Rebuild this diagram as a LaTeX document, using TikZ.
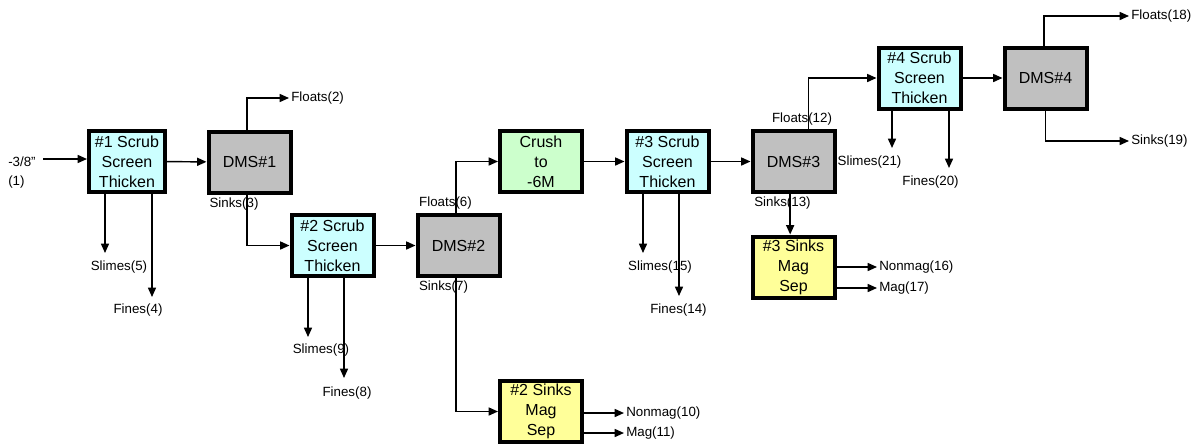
\documentclass[tikz,border=0pt]{standalone}
\usepackage{fontspec}
\setmainfont{Liberation Sans}
\usetikzlibrary{arrows.meta}
\usetikzlibrary{positioning}

\definecolor{scrubfill}{HTML}{CCFFFF}
\definecolor{dmsfill}{HTML}{C0C0C0}
\definecolor{crushfill}{HTML}{CCFFCC}
\definecolor{sepfill}{HTML}{FFFF99}

\begin{document}
\begin{tikzpicture}[x=0.75pt, y=-0.75pt]
\tikzstyle{unit} = [rectangle, minimum width=61.5pt, minimum height=45.75pt, inner sep=0pt, align=center, text centered, draw=black, line width=3pt, font=\fontsize{12}{15}\selectfont]
\tikzstyle{scrub} = [unit, fill=scrubfill]
\tikzstyle{dms} = [unit, fill=dmsfill]
\tikzstyle{crush} = [unit, fill=crushfill]
\tikzstyle{magsep} = [unit, fill=sepfill]
\tikzstyle{stream} = [inner sep=1.5pt, font=\fontsize{10}{12}\selectfont]
\tikzstyle{flow} = [line width=1.1pt, -{Triangle[length=7pt, width=6pt]}]

\useasboundingbox (0,0) rectangle (1199,444);

% Units
\node (scrubA) [scrub, minimum width=57pt] at (127,161.5) {\#1 Scrub\\Screen\\Thicken};
\node (dmsA) [dms] at (249.5,162) {DMS\#1};
\node (scrubB) [scrub] at (332.5,245.5) {\#2 Scrub\\Screen\\Thicken};
\node (dmsB) [dms] at (458.5,245.5) {DMS\#2};
\node (crushA) [crush] at (541,161.5) {Crush\\to\\-6M};
\node (sepB) [magsep] at (541,411.5) {\#2 Sinks\\Mag\\Sep};
\node (scrubC) [scrub] at (667.5,161.5) {\#3 Scrub\\Screen\\Thicken};
\node (dmsC) [dms] at (793.5,161.5) {DMS\#3};
\node (sepC) [magsep] at (793.5,267) {\#3 Sinks\\Mag\\Sep};
\node (scrubD) [scrub] at (919.5,78) {\#4 Scrub\\Screen\\Thicken};
\node (dmsD) [dms] at (1045.5,78) {DMS\#4};

% Streams
\coordinate (feed) at (43,159);
\node (feedA) [stream, anchor=west] at (6,162) {-3/8"};
\node (feedB) [stream, anchor=west] at (6,182) {(1)};
\node (floatsA) [stream, anchor=west] at (289,98) {Floats(2)};
\node (sinksA) [stream] at (234,204) {Sinks(3)};
\coordinate (slimesAend) at (105,253);
\node (slimesA) [stream] at (119,267) {Slimes(5)};
\coordinate (finesAend) at (152,297);
\node (finesA) [stream] at (138,310) {Fines(4)};

\coordinate (slimesBend) at (308,337);
\node (slimesB) [stream] at (321,350) {Slimes(9)};
\coordinate (finesBend) at (344,378);
\node (finesB) [stream] at (347,393) {Fines(8)};
\node (floatsB) [stream] at (445.5,203) {Floats(6)};
\node (sinksB) [stream] at (443.5,287) {Sinks(7)};
\node (nonmagB) [stream, anchor=west] at (624,413) {Nonmag(10)};
\node (magB) [stream, anchor=west] at (624,433) {Mag(11)};

\coordinate (slimesCend) at (643,253);
\node (slimesC) [stream] at (660,267) {Slimes(15)};
\coordinate (finesCend) at (679,296);
\node (finesC) [stream] at (678.5,310) {Fines(14)};
\node (floatsC) [stream] at (802,119) {Floats(12)};
\node (sinksC) [stream] at (782.5,203) {Sinks(13)};
\node (nonmagC) [stream, anchor=west] at (877,267) {Nonmag(16)};
\node (magC) [stream, anchor=west] at (877,288) {Mag(17)};

\coordinate (slimesDend) at (892,148);
\node (slimesD) [stream] at (869.5,162) {Slimes(21)};
\coordinate (finesDend) at (949,168);
\node (finesD) [stream] at (930.5,182) {Fines(20)};
\node (floatsD) [stream, anchor=west] at (1129,16) {Floats(18)};
\node (sinksD) [stream, anchor=west] at (1129,141) {Sinks(19)};

% Draws
\draw[flow] (feed) -- (feed -| scrubA.west);
\draw[flow] (scrubA) -- (dmsA);
\draw[flow] ([xshift=-2pt]dmsA.north) |- (floatsA.west);
\draw[flow] ([xshift=-2pt]dmsA.south) |- (scrubB.west);
\draw[flow] (scrubA.south -| slimesAend) -- (slimesAend);
\draw[flow] (scrubA.south -| finesAend) -- (finesAend);

\draw[flow] (scrubB) -- (dmsB);
\draw[flow] (scrubB.south -| slimesBend) -- (slimesBend);
\draw[flow] (scrubB.south -| finesBend) -- (finesBend);
\draw[flow] ([xshift=-2pt]dmsB.north) |- (crushA.west);
\draw[flow] ([xshift=-2pt]dmsB.south) |- (sepB.west);
\draw[flow] (sepB.east |- nonmagB.west) -- (nonmagB.west);
\draw[flow] (sepB.east |- magB.west) -- (magB.west);

\draw[flow] (crushA) -- (scrubC);
\draw[flow] (scrubC) -- (dmsC);
\draw[flow] (scrubC.south -| slimesCend) -- (slimesCend);
\draw[flow] (scrubC.south -| finesCend) -- (finesCend);
\draw[flow] ([xshift=11.25pt]dmsC.north) |- (scrubD.west);
\draw[flow] ([xshift=-2.5pt]dmsC.south) -- ([xshift=-2.5pt]sepC.north);
\draw[flow] (sepC.east |- nonmagC.west) -- (nonmagC.west);
\draw[flow] (sepC.east |- magC.west) -- (magC.west);

\draw[flow] (scrubD) -- (dmsD);
\draw[flow] (scrubD.south -| slimesDend) -- (slimesDend);
\draw[flow] (scrubD.south -| finesDend) -- (finesDend);
\draw[flow] ([xshift=-1pt]dmsD.north) |- (floatsD.west);
\draw[flow] (dmsD.south) |- (sinksD.west);
\end{tikzpicture}
\end{document}
